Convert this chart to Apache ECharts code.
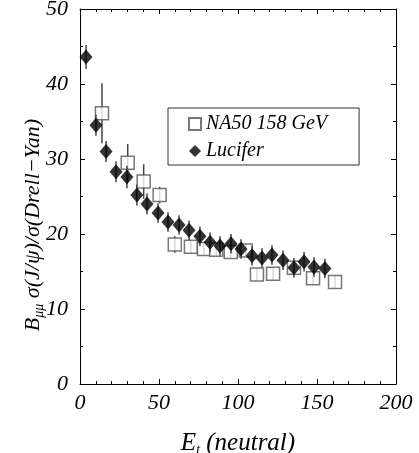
<!DOCTYPE html>
<html>
<head>
<meta charset="utf-8">
<script src="https://cdn.jsdelivr.net/npm/echarts@6/dist/echarts.min.js"></script>
<style>
html,body{margin:0;padding:0;background:#fff;}
#c{width:419px;height:453px;}
</style>
</head>
<body>
<div id="c"></div>
<script>
// NA50 158 GeV (open squares)
var naX   = [13.9, 30.2, 40.3, 50.4, 60.0, 70.2, 78.4, 86.2, 95.4, 104.9, 112.0, 122.2, 135.4, 147.5, 161.4];
var naY   = [36.1, 29.5, 27.0, 25.2, 18.6, 18.3, 18.0, 17.9, 17.6, 17.8, 14.6, 14.7, 15.5, 14.1, 13.6];
var naErr = [4.0, 2.5, 2.3, 1.1, 1.1, 0.8, 0.8, 0.8, 0.8, 0.8, 0.8, 0.8, 0.8, 0.8, 0.8];

// Lucifer (filled diamonds)
var lucX   = [3.8, 10.1, 16.5, 22.8, 29.7, 36.0, 42.4, 49.4, 55.7, 62.7, 69.0, 75.9, 82.3, 88.6, 95.6, 101.9, 108.9, 115.2, 121.5, 128.5, 135.4, 141.8, 148.1, 155.0];
var lucY   = [43.6, 34.5, 31.0, 28.3, 27.6, 25.2, 24.0, 22.8, 21.6, 21.2, 20.5, 19.7, 18.9, 18.4, 18.7, 18.0, 17.1, 16.8, 17.2, 16.5, 15.5, 16.3, 15.6, 15.4];
var lucErr = [1.6, 1.4, 1.4, 1.4, 1.5, 1.4, 1.4, 1.3, 1.3, 1.3, 1.3, 1.3, 1.3, 1.3, 1.3, 1.3, 1.3, 1.3, 1.3, 1.3, 1.3, 1.3, 1.3, 1.3];

var xTicks = [0, 50, 100, 150, 200];
var yTicks = [0, 10, 20, 30, 40, 50];

var FONT = '"Liberation Serif","DejaVu Serif",serif';

function pts(xs, ys){ return xs.map(function(x,i){ return [x, ys[i]]; }); }
function errs(xs, ys, es){ return xs.map(function(x,i){ return [x, ys[i]-es[i], ys[i]+es[i]]; }); }

function errRender(params, api){
  var p1 = api.coord([api.value(0), api.value(1)]);
  var p2 = api.coord([api.value(0), api.value(2)]);
  return {type:'line', shape:{x1:p1[0], y1:p1[1], x2:p2[0], y2:p2[1]},
          style:{stroke:'#444', lineWidth:1.5}};
}

function axisBase(pos, split, showLabel){
  return {
    type:'value', position:pos,
    axisLine:{show:true, onZero:false, lineStyle:{color:'#000', width:1}},
    axisTick:{show:true, inside:true, length:5, lineStyle:{color:'#000'}},
    minorTick:{show:true, splitNumber:split, length:3, lineStyle:{color:'#000'}},
    splitLine:{show:false},
    axisLabel:{show:showLabel, fontFamily:FONT, fontStyle:'italic', fontSize:22, color:'#000', margin:10, hideOverlap:false}
  };
}

var xb = axisBase('bottom', 5, true);
xb.min = xTicks[0]; xb.max = xTicks[xTicks.length-1]; xb.interval = 50;
xb.axisLabel.margin = 8;
xb.name = '{m|E}{s|t}{m| (neutral)}';
xb.nameLocation = 'middle';
xb.nameGap = 45;
xb.nameTextStyle = {fontFamily:FONT, fontStyle:'italic', color:'#000',
  rich:{m:{fontFamily:FONT, fontStyle:'italic', fontSize:25, color:'#000'},
        s:{fontFamily:FONT, fontStyle:'italic', fontSize:14, color:'#000', padding:[14,0,0,0]}}};
var xt = axisBase('top', 5, false);
xt.min = 0; xt.max = 200; xt.interval = 50;

var yl = axisBase('left', 2, true);
yl.min = yTicks[0]; yl.max = yTicks[yTicks.length-1]; yl.interval = 10;
yl.axisLabel.margin = 12;
var yr = axisBase('right', 2, false);
yr.min = 0; yr.max = 50; yr.interval = 10;

var chart = echarts.init(document.getElementById('c'), null, {renderer:'canvas'});
chart.setOption({
  backgroundColor:'#fff',
  animation:false,
  grid:{left:80, right:23, top:9, bottom:69, containLabel:false, outerBoundsMode:'none'},
  xAxis:[xb, xt],
  yAxis:[yl, yr],
  legend:{
    left:168, top:108, orient:'vertical',
    padding:[6, 32, 4, 20], itemGap:7,
    borderColor:'#333', borderWidth:1,
    itemWidth:12, itemHeight:12,
    textStyle:{fontFamily:FONT, fontStyle:'italic', fontSize:20, color:'#000'},
    data:['NA50 158 GeV','Lucifer']
  },
  graphic:[{
    type:'text', x:33, y:225, rotation:Math.PI/2,
    style:{
      text:'{m|B}{s|μμ}{m| σ(J/ψ)/σ(Drell−Yan)}',
      align:'center', verticalAlign:'middle',
      rich:{m:{fontFamily:FONT, fontStyle:'italic', fontSize:22, fill:'#000'},
            s:{fontFamily:FONT, fontStyle:'italic', fontSize:14, fill:'#000', padding:[12,0,0,0]}}
    }
  }],
  series:[
    {type:'custom', name:'naErr', renderItem:errRender, data:errs(naX, naY, naErr), z:1, silent:true,
      encode:{x:0, y:[1,2]}},
    {type:'scatter', name:'NA50 158 GeV', data:pts(naX, naY), symbol:'rect', symbolSize:13, z:2,
      itemStyle:{color:'#fff', borderColor:'#555', borderWidth:1.5}},
    {type:'custom', name:'lucErr', renderItem:errRender, data:errs(lucX, lucY, lucErr), z:3, silent:true,
      encode:{x:0, y:[1,2]}},
    {type:'scatter', name:'Lucifer', data:pts(lucX, lucY), symbol:'diamond', symbolSize:[13,15], z:4,
      itemStyle:{color:'#000'}}
  ]
});
</script>
</body>
</html>
